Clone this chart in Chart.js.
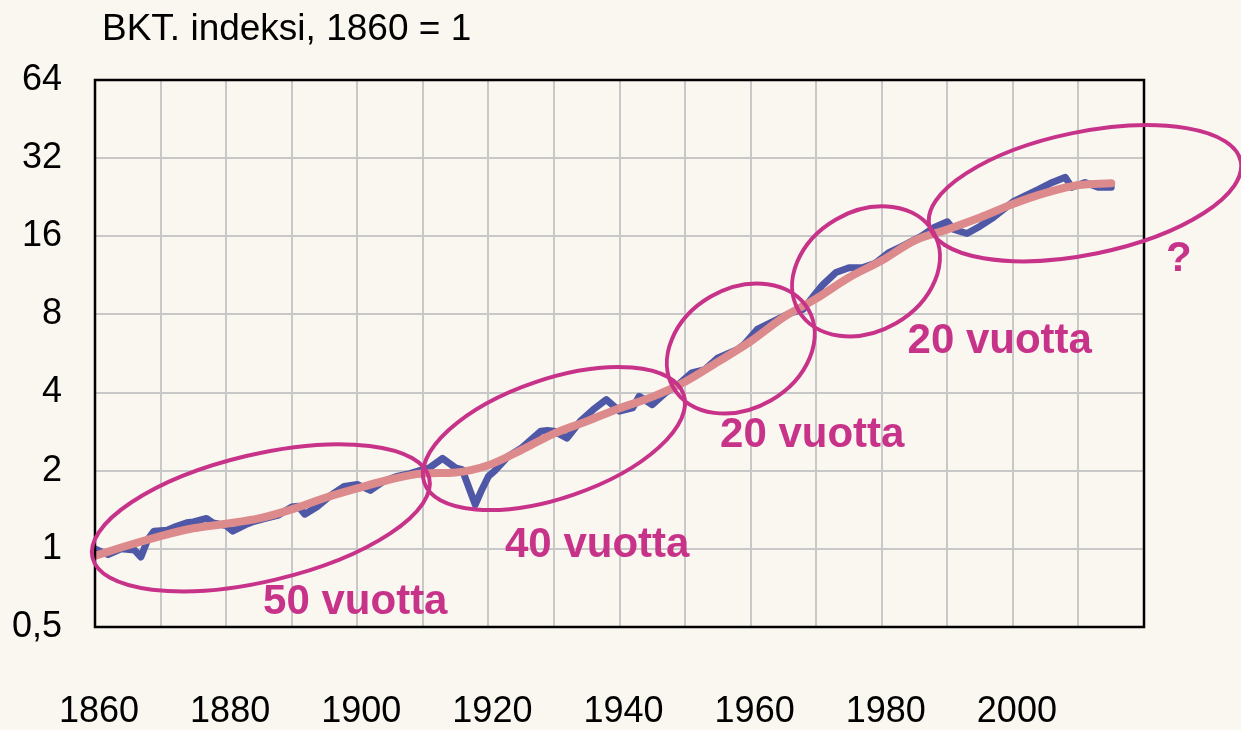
<!DOCTYPE html>
<html>
<head>
<meta charset="utf-8">
<script src="https://cdn.jsdelivr.net/npm/chart.js@4"></script>
<style>
	html, body { margin: 0; padding: 0; background: #faf6f0; overflow: hidden; }
	canvas { display: block; }
</style>
</head>
<body>
<canvas id="chart" width="1241" height="730"></canvas>
<script>
// BKT (annual), index 1860 = 1
const gdpYears = [
	1860, 1862, 1864, 1866, 1867, 1868, 1869, 1871, 1872, 1874, 1875, 1877, 1878,
	1880, 1881, 1883, 1884, 1886, 1888, 1890, 1891, 1892, 1894, 1896, 1898, 1900,
	1902, 1904, 1906, 1908, 1910, 1911, 1913, 1915, 1916, 1918, 1919, 1920, 1921,
	1923, 1925, 1928, 1929, 1930, 1932, 1934, 1936, 1938, 1940, 1942, 1943, 1945,
	1947, 1949, 1951, 1953, 1955, 1958, 1959, 1961, 1964, 1966, 1968, 1970, 1971,
	1973, 1975, 1977, 1979, 1981, 1983, 1986, 1988, 1990, 1991, 1993, 1995, 1997,
	2000, 2002, 2004, 2006, 2008, 2009, 2011, 2013, 2015,
];
const gdpValues = [
	1.0, 0.95, 1.0, 0.99, 0.93, 1.08, 1.17, 1.18, 1.21, 1.26, 1.27, 1.31, 1.26,
	1.23, 1.17, 1.24, 1.27, 1.31, 1.35, 1.45, 1.46, 1.36, 1.46, 1.61, 1.74, 1.77,
	1.68, 1.82, 1.9, 1.95, 2.02, 2.05, 2.23, 2.05, 2.02, 1.48, 1.69, 1.9, 2.0,
	2.27, 2.44, 2.84, 2.86, 2.84, 2.67, 3.1, 3.44, 3.76, 3.39, 3.49, 3.87, 3.59,
	3.99, 4.3, 4.76, 4.9, 5.44, 5.86, 6.13, 7.0, 7.64, 8.1, 8.36, 9.7, 10.4,
	11.6, 12.1, 12.1, 12.6, 13.8, 14.6, 16.0, 17.3, 18.2, 17.0, 16.4, 17.5, 18.9,
	21.7, 23.0, 24.3, 25.8, 27.0, 24.7, 25.8, 24.7, 24.7,
];

// smoothed trend
const trendYears = [
	1860, 1865, 1870, 1875, 1880, 1885, 1890, 1895, 1900, 1905, 1910, 1915, 1920,
	1925, 1930, 1935, 1940, 1945, 1950, 1955, 1960, 1965, 1970, 1975, 1980, 1985,
	1990, 1995, 2000, 2005, 2010, 2015,
];
const trendValues = [
	0.94, 1.03, 1.12, 1.2, 1.25, 1.31, 1.42, 1.57, 1.71, 1.85, 1.95, 1.97, 2.1,
	2.4, 2.78, 3.1, 3.48, 3.85, 4.4, 5.25, 6.3, 7.8, 9.2, 11.1, 12.9, 15.4,
	17.0, 18.9, 21.3, 23.5, 25.2, 25.6,
];

const yTicks = [0.5, 1, 2, 4, 8, 16, 32, 64];
const xLabels = [1860, 1880, 1900, 1920, 1940, 1960, 1980, 2000];

const titleText = "BKT. indeksi, 1860 = 1";

// rings: centre in data units, radii in px, tilt in degrees
const rings = [
	{ x: 1885.3, y: 1.317, rx: 173, ry: 63.5, rot: -13.3 },
	{ x: 1930.0, y: 2.66, rx: 137, ry: 59.4, rot: -18.8 },
	{ x: 1958.5, y: 5.91, rx: 78, ry: 60, rot: -30 },
	{ x: 1977.6, y: 11.72, rx: 78, ry: 60, rot: -30 },
	{ x: 2011.0, y: 23.45, rx: 159, ry: 61.3, rot: -11.6 },
];
const notes = [
	{ x: 1899.7, y: 0.624, text: "50 vuotta" },
	{ x: 1936.6, y: 1.027, text: "40 vuotta" },
	{ x: 1969.4, y: 2.73, text: "20 vuotta" },
	{ x: 1998.0, y: 6.29, text: "20 vuotta" },
	{ x: 2025.3, y: 13.05, text: "?" },
];

const bg = "#faf6f0";
const magenta = "#c8338a";
const font = '"Liberation Sans", Arial, sans-serif';

Chart.defaults.font.family = font;
Chart.defaults.color = "#000";

const background = {
	id: "background",
	beforeDraw(chart) {
		const { ctx, width, height } = chart;
		ctx.save();
		ctx.fillStyle = bg;
		ctx.fillRect(0, 0, width, height);
		ctx.restore();
	},
};

const frame = {
	id: "frame",
	afterDatasetsDraw(chart) {
		const { ctx, chartArea: a, scales } = chart;
		ctx.save();
		ctx.strokeStyle = "#000";
		ctx.lineWidth = 2.5;
		ctx.strokeRect(a.left, a.top, a.right - a.left, a.bottom - a.top);

		ctx.strokeStyle = magenta;
		ctx.lineWidth = 4;
		rings.forEach(r => {
			ctx.beginPath();
			ctx.ellipse(
				scales.x.getPixelForValue(r.x),
				scales.y.getPixelForValue(r.y),
				r.rx, r.ry, (r.rot * Math.PI) / 180, 0, Math.PI * 2
			);
			ctx.stroke();
		});

		ctx.fillStyle = magenta;
		ctx.font = `bold 42px ${font}`;
		ctx.textAlign = "center";
		ctx.textBaseline = "middle";
		notes.forEach(n =>
			ctx.fillText(
				n.text,
				scales.x.getPixelForValue(n.x),
				scales.y.getPixelForValue(n.y)
			)
		);

		ctx.fillStyle = "#000";
		ctx.font = `37px ${font}`;
		ctx.textAlign = "left";
		ctx.textBaseline = "alphabetic";
		ctx.fillText(titleText, 102, 40);
		ctx.restore();
	},
};

new Chart(document.getElementById("chart"), {
	type: "line",
	plugins: [background, frame],
	data: {
		datasets: [
			{
				data: gdpYears.map((x, i) => ({ x, y: gdpValues[i] })),
				borderColor: "#4f58a6",
				borderWidth: 7,
				borderJoinStyle: "round",
				borderCapStyle: "round",
				pointRadius: 0,
				tension: 0,
				order: 2,
			},
			{
				data: trendYears.map((x, i) => ({ x, y: trendValues[i] })),
				borderColor: "#dc8a8c",
				borderWidth: 8,
				borderCapStyle: "round",
				pointRadius: 0,
				cubicInterpolationMode: "monotone",
				order: 1,
			},
		],
	},
	options: {
		responsive: false,
		animation: false,
		devicePixelRatio: 1,
		layout: { padding: { top: 80, right: 97, left: 0, bottom: 0 } },
		plugins: {
			legend: { display: false },
			tooltip: { enabled: false },
		},
		scales: {
			x: {
				type: "linear",
				min: 1860,
				max: 2020,
				afterFit: s => {
					s.height = 103;
					s.paddingLeft = 0;
					s.paddingRight = 0;
				},
				grid: { color: "#c8c8c8", lineWidth: 2, drawTicks: false },
				border: { display: false },
				ticks: {
					stepSize: 10,
					autoSkip: false,
					maxRotation: 0,
					padding: 63,
					labelOffset: 4,
					font: { size: 36 },
					callback: v => (xLabels.includes(v) ? String(v) : ""),
				},
			},
			y: {
				type: "logarithmic",
				min: 0.5,
				max: 64,
				afterFit: s => { s.width = 95; },
				afterBuildTicks: s => { s.ticks = yTicks.map(value => ({ value })); },
				grid: { color: "#c8c8c8", lineWidth: 2, drawTicks: false },
				border: { display: false },
				ticks: {
					padding: 33,
					font: { size: 36 },
					callback: v => String(v).replace(".", ","),
				},
			},
		},
	},
});
</script>
</body>
</html>
